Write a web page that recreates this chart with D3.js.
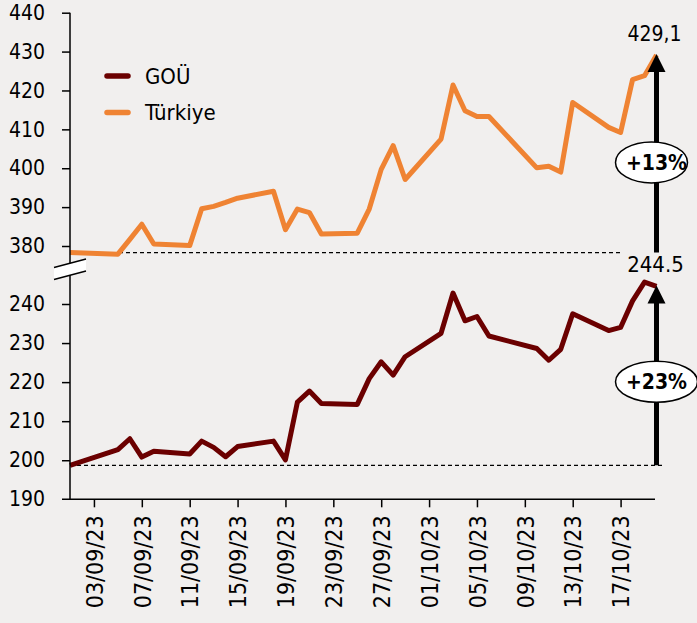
<!DOCTYPE html>
<html>
<head>
<meta charset="utf-8">
<script src="https://cdn.jsdelivr.net/npm/d3@7"></script>
<style>
  body { margin: 0; background: #f1efee; }
  svg text { font-family: "DejaVu Sans Condensed", "DejaVu Sans", sans-serif; font-stretch: condensed; fill: #000; }
</style>
</head>
<body>
<svg width="697" height="623"></svg>
<script>
// business days, 01/09/23 - 20/10/23
var dates = ["01/09/23", "05/09/23", "06/09/23", "07/09/23", "08/09/23",
  "11/09/23", "12/09/23", "13/09/23", "14/09/23", "15/09/23",
  "18/09/23", "19/09/23", "20/09/23", "21/09/23", "22/09/23",
  "25/09/23", "26/09/23", "27/09/23", "28/09/23", "29/09/23",
  "02/10/23", "03/10/23", "04/10/23", "05/10/23", "06/10/23",
  "10/10/23", "11/10/23", "12/10/23", "13/10/23",
  "16/10/23", "17/10/23", "18/10/23", "19/10/23", "20/10/23"];

var turkiye = [378.3, 377.9, 381.7, 385.6, 380.5,
  380.1, 389.6, 390.2, 391.2, 392.3,
  394.1, 384.2, 389.5, 388.6, 383.1,
  383.3, 389.5, 399.7, 405.8, 397.1,
  407.5, 421.4, 414.8, 413.3, 413.3,
  400.1, 400.5, 399.0, 416.9,
  410.5, 409.2, 422.8, 423.8, 429.1];

var gou = [198.7, 202.7, 205.5, 200.8, 202.3,
  201.6, 204.9, 203.3, 200.9, 203.5,
  204.9, 200.1, 214.9, 217.7, 214.5,
  214.3, 220.9, 225.2, 221.8, 226.5,
  232.5, 242.8, 235.7, 236.8, 231.8,
  228.6, 225.6, 228.4, 237.5,
  233.2, 234.0, 240.8, 245.6, 244.5];

var xTickLabels = ["03/09/23", "07/09/23", "11/09/23", "15/09/23", "19/09/23", "23/09/23",
  "27/09/23", "01/10/23", "05/10/23", "09/10/23", "13/10/23", "17/10/23"];
var yTopTicks = [380, 390, 400, 410, 420, 430, 440];
var yBottomTicks = [190, 200, 210, 220, 230, 240];

var seriesNames = ["GOÜ", "Türkiye"];
var colours = ["#6b0000", "#ef8333"];
var endLabels = ["244.5", "429,1"];
var changeLabels = ["+23%", "+13%"];

var parse = d3.timeParse("%d/%m/%y");
var svg = d3.select("svg");

var x = d3.scaleTime()
  .domain([parse("01/09/23"), parse("20/10/23")])
  .range([70, 656.5]);

// broken y axis: two scales with the same px per unit
var yTop = d3.scaleLinear().domain([380, 440]).range([246, 12.7]);
var yBot = d3.scaleLinear().domain([190, 240]).range([499.3, 304]);

var tData = dates.map(function(d, i) { return {date: parse(d), value: turkiye[i]}; });
var gData = dates.map(function(d, i) { return {date: parse(d), value: gou[i]}; });
var last = tData.length - 1;
var xEnd = x(tData[last].date);

// dashed reference lines at the starting values
svg.append("line")
  .attr("x1", 70).attr("x2", 623)
  .attr("y1", yTop(turkiye[0])).attr("y2", yTop(turkiye[0]))
  .attr("stroke", "#000").attr("stroke-width", 1.2).attr("stroke-dasharray", "4,3");
svg.append("line")
  .attr("x1", 70).attr("x2", 665)
  .attr("y1", yBot(gou[0])).attr("y2", yBot(gou[0]))
  .attr("stroke", "#000").attr("stroke-width", 1.2).attr("stroke-dasharray", "4,3");

// series
var lineTop = d3.line().x(function(d) { return x(d.date); }).y(function(d) { return yTop(d.value); });
var lineBot = d3.line().x(function(d) { return x(d.date); }).y(function(d) { return yBot(d.value); });

svg.append("path").datum(gData)
  .attr("d", lineBot).attr("fill", "none")
  .attr("stroke", colours[0]).attr("stroke-width", 5).attr("stroke-linejoin", "round");
svg.append("path").datum(tData)
  .attr("d", lineTop).attr("fill", "none")
  .attr("stroke", colours[1]).attr("stroke-width", 5).attr("stroke-linejoin", "round");

// y axes
function styleAxis(g) {
  g.select(".domain").remove();
  g.selectAll("line").attr("stroke", "#000").attr("stroke-width", 1.5);
  g.selectAll("text").style("font-size", "21px").attr("x", -25);
}
svg.append("g").attr("transform", "translate(70,0)")
  .call(d3.axisLeft(yTop).tickValues(yTopTicks).tickSize(8))
  .call(styleAxis);
svg.append("g").attr("transform", "translate(70,0)")
  .call(d3.axisLeft(yBot).tickValues(yBottomTicks.slice(1)).tickSize(8))
  .call(styleAxis);
// 190 label sits on the x axis line
svg.append("text").attr("x", 45).attr("y", yBot(190)).attr("dy", "0.32em")
  .attr("text-anchor", "end").style("font-size", "21px").text(yBottomTicks[0]);

svg.append("line").attr("x1", 70).attr("x2", 70).attr("y1", yTop(440)).attr("y2", yBot(190))
  .attr("stroke", "#000").attr("stroke-width", 1.5);

// axis break
svg.append("path")
  .attr("d", "M54,267.5 L86,259 L86,271 L54,279.5 Z")
  .attr("fill", "#fff");
svg.append("path")
  .attr("d", "M54,267.5 L86,259 M54,279.5 L86,271")
  .attr("stroke", "#000").attr("stroke-width", 1.3);

// x axis
var xAxis = svg.append("g").attr("transform", "translate(0," + yBot(190) + ")")
  .call(d3.axisBottom(x).tickValues(xTickLabels.map(parse)).tickSize(8)
    .tickFormat(d3.timeFormat("%d/%m/%y")));
xAxis.select(".domain").remove();
xAxis.selectAll("line").attr("stroke", "#000").attr("stroke-width", 1.5);
xAxis.selectAll("text")
  .attr("transform", "rotate(-90)")
  .attr("x", -16).attr("y", 0).attr("dy", "0.36em")
  .style("text-anchor", "end").style("font-size", "23px");
svg.append("line").attr("x1", 62).attr("x2", 655).attr("y1", yBot(190)).attr("y2", yBot(190))
  .attr("stroke", "#000").attr("stroke-width", 1.5);

// change arrows
function arrow(y0, y1) {
  svg.append("line").attr("x1", xEnd).attr("x2", xEnd).attr("y1", y0).attr("y2", y1 + 14)
    .attr("stroke", "#000").attr("stroke-width", 5);
  svg.append("path")
    .attr("d", "M" + xEnd + "," + (y1 - 1) + " L" + (xEnd + 9) + "," + (y1 + 17) + " L" + (xEnd - 9) + "," + (y1 + 17) + " Z")
    .attr("fill", "#000");
}
arrow(yTop(turkiye[0]), yTop(turkiye[last]));
arrow(yBot(gou[0]), yBot(gou[last]));

function badge(cx, cy, rx, label) {
  svg.append("ellipse").attr("cx", cx).attr("cy", cy).attr("rx", rx).attr("ry", 20.5)
    .attr("fill", "#fff").attr("stroke", "#000").attr("stroke-width", 1.5);
  svg.append("text").attr("x", xEnd).attr("y", cy).attr("dy", "0.36em")
    .attr("text-anchor", "middle").style("font-size", "21px").style("font-weight", "bold")
    .text(label);
}
badge(xEnd - 5, yTop(401.5), 36, changeLabels[1]);
badge(xEnd, yBot(220.1), 41, changeLabels[0]);

// end values
svg.append("text").attr("x", xEnd - 2).attr("y", yTop(turkiye[last]) - 14.5)
  .attr("text-anchor", "middle").style("font-size", "21px").text(endLabels[1]);
svg.append("text").attr("x", xEnd - 1).attr("y", yBot(gou[last]) - 14.5)
  .attr("text-anchor", "middle").style("font-size", "22px").text(endLabels[0]);

// legend
var legend = svg.selectAll(".legend").data(seriesNames).enter().append("g")
  .attr("class", "legend")
  .attr("transform", function(d, i) { return "translate(107," + (76 + i * 36.5) + ")"; });
legend.append("line").attr("x1", 0).attr("x2", 21)
  .attr("stroke", function(d, i) { return colours[i]; })
  .attr("stroke-width", 5.5).attr("stroke-linecap", "round");
legend.append("text").attr("x", 38).attr("dy", "0.36em")
  .style("font-size", "22px").text(function(d) { return d; });
</script>
</body>
</html>
